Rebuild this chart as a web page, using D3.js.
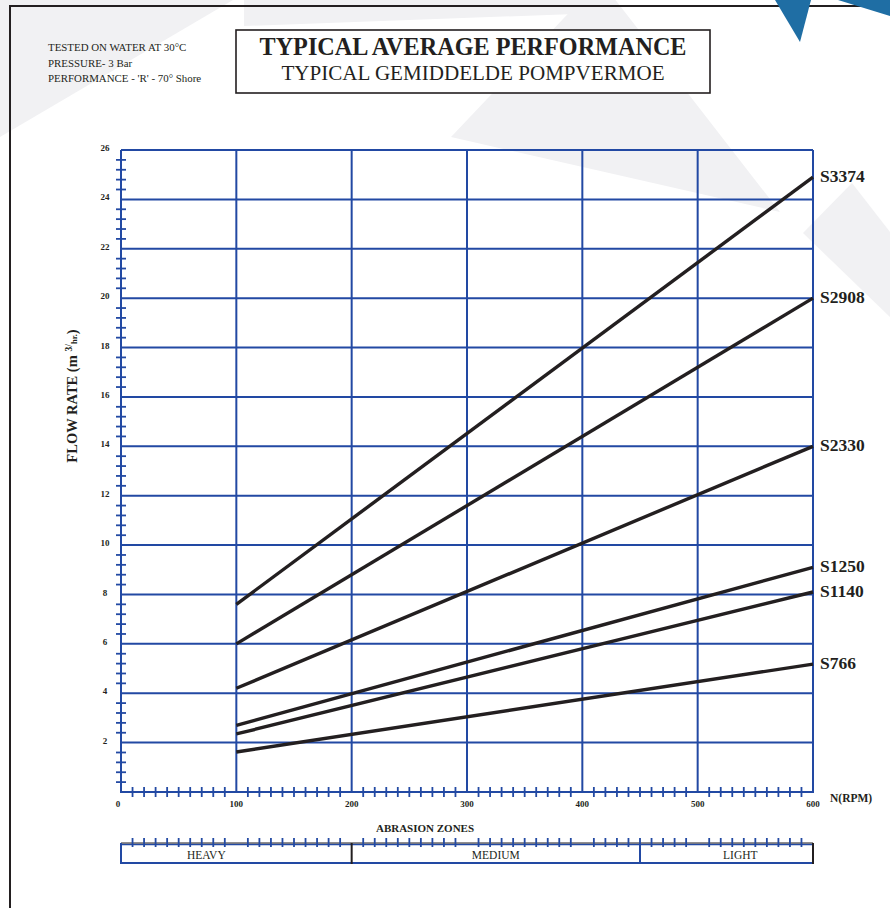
<!DOCTYPE html>
<html lang="en">
<head>
    <meta charset="UTF-8">
    <title>Typical Average Performance</title>
    <script src="https://d3js.org/d3.v7.min.js"></script>
    <style>
        body { margin: 0; background: #fff; }
        svg { display: block; font-family: "Liberation Serif", "Times New Roman", serif; }
    </style>
</head>
<body>
<div id="chart"></div>
<script>
    // chart data
    const rpmPoints = [100, 600];
    const seriesNames = ["S3374", "S2908", "S2330", "S1250", "S1140", "S766"];
    const flowS3374 = [7.6, 24.9];
    const flowS2908 = [6.0, 20.0];
    const flowS2330 = [4.2, 14.0];
    const flowS1250 = [2.7, 9.1];
    const flowS1140 = [2.35, 8.1];
    const flowS766 = [1.62, 5.18];
    const xTickLabels = [0, 100, 200, 300, 400, 500, 600];
    const yTickLabels = [2, 4, 6, 8, 10, 12, 14, 16, 18, 20, 22, 24, 26];
    const zoneNames = ["HEAVY", "MEDIUM", "LIGHT"];
    const zoneBounds = [0, 200, 450, 600];
    const zoneLabelAt = [74, 325, 537];
    const notes = ["TESTED ON WATER AT 30°C", "PRESSURE- 3 Bar", "PERFORMANCE - 'R' - 70° Shore"];

    const seriesValues = [flowS3374, flowS2908, flowS2330, flowS1250, flowS1140, flowS766];

    const blue = "#2249a3";
    const ink = "#231f20";
    const bg = "#f1f1f3";

    const svg = d3.select("#chart").append("svg")
        .attr("width", 890)
        .attr("height", 908);

    // background decoration
    const shapes = [
        [[0, 0], [233, 0], [0, 137]],
        [[244, 0], [244, 26], [575, 14], [590, 0]],
        [[451, 137], [600, -20], [780, 212]],
        [[803, 233], [852, 183], [890, 232], [890, 317]]
    ];
    svg.selectAll(".bgshape").data(shapes).enter().append("polygon")
        .attr("points", d => d.map(p => p.join(",")).join(" "))
        .attr("fill", bg);

    // page frame
    svg.append("path").attr("d", "M10,908 V6 H890")
        .attr("fill", "none").attr("stroke", ink).attr("stroke-width", 2);

    const blueShapes = [
        [[775, 0], [811, 0], [800, 42]],
        [[838, 0], [890, 0], [890, 16]]
    ];
    svg.selectAll(".blueshape").data(blueShapes).enter().append("polygon")
        .attr("points", d => d.map(p => p.join(",")).join(" "))
        .attr("fill", "#1f6ea4");

    // notes top-left
    svg.selectAll(".note").data(notes).enter().append("text")
        .attr("x", 48)
        .attr("y", (d, i) => 51 + i * 15.5)
        .attr("font-size", 10.9)
        .attr("fill", ink)
        .text(d => d);

    // title box
    svg.append("rect").attr("x", 236).attr("y", 30).attr("width", 474).attr("height", 63)
        .attr("fill", "#fff").attr("stroke", ink).attr("stroke-width", 1.6);
    svg.append("text").attr("x", 473).attr("y", 55)
        .attr("text-anchor", "middle").attr("font-size", 25).attr("font-weight", "bold")
        .attr("textLength", 427).attr("lengthAdjust", "spacingAndGlyphs")
        .attr("fill", ink).text("TYPICAL AVERAGE PERFORMANCE");
    svg.append("text").attr("x", 473).attr("y", 80)
        .attr("text-anchor", "middle").attr("font-size", 21.5)
        .attr("textLength", 383).attr("lengthAdjust", "spacingAndGlyphs")
        .attr("fill", ink).text("TYPICAL GEMIDDELDE POMPVERMOE");

    // scales
    const x = d3.scaleLinear().domain([0, 600]).range([121, 813]);
    const y = d3.scaleLinear().domain([0, 26]).range([792, 150]);

    const g = svg.append("g");

    // grid
    g.selectAll(".hgrid").data(yTickLabels).enter().append("line")
        .attr("x1", x(0)).attr("x2", x(600))
        .attr("y1", d => y(d)).attr("y2", d => y(d))
        .attr("stroke", blue).attr("stroke-width", 2);
    g.selectAll(".vgrid").data(xTickLabels.slice(1)).enter().append("line")
        .attr("y1", y(0)).attr("y2", y(26))
        .attr("x1", d => x(d)).attr("x2", d => x(d))
        .attr("stroke", blue).attr("stroke-width", 2);
    // axes lines
    g.append("line").attr("x1", x(0)).attr("x2", x(0)).attr("y1", y(0)).attr("y2", y(26))
        .attr("stroke", blue).attr("stroke-width", 2);
    g.append("line").attr("x1", x(0) - 1).attr("x2", x(600) + 1).attr("y1", y(0)).attr("y2", y(0))
        .attr("stroke", blue).attr("stroke-width", 2);

    // minor ticks
    const yMinor = d3.range(0, 26.001, 0.4).filter(v => Math.abs(v / 2 - Math.round(v / 2)) > 0.01);
    g.selectAll(".ymin").data(yMinor).enter().append("line")
        .attr("x1", x(0) - 5).attr("x2", x(0) + 5)
        .attr("y1", d => y(d)).attr("y2", d => y(d))
        .attr("stroke", blue).attr("stroke-width", 1.8);
    const xMinor = d3.range(10, 600, 10).filter(v => v % 100 !== 0);
    g.selectAll(".xmin").data(xMinor).enter().append("line")
        .attr("x1", d => x(d)).attr("x2", d => x(d))
        .attr("y1", y(0) - 5).attr("y2", y(0) + 5)
        .attr("stroke", blue).attr("stroke-width", 1.8);

    // tick labels
    g.selectAll(".ylab").data(yTickLabels).enter().append("text")
        .attr("x", 105).attr("y", d => y(d) - 1)
        .attr("text-anchor", "middle").attr("dominant-baseline", "middle")
        .attr("font-size", 9).attr("font-weight", "bold").attr("fill", ink)
        .text(d => d);
    g.selectAll(".xlab").data(xTickLabels).enter().append("text")
        .attr("x", d => d === 0 ? x(d) - 3 : x(d)).attr("y", y(0) + 15)
        .attr("text-anchor", "middle")
        .attr("font-size", 9).attr("font-weight", "bold").attr("fill", ink)
        .text(d => d);

    svg.append("text").attr("x", 830).attr("y", 802)
        .attr("font-size", 11.5).attr("font-weight", "bold").attr("fill", ink)
        .text("N(RPM)");

    const yl = svg.append("text")
        .attr("transform", "translate(77,396) rotate(-90)")
        .attr("text-anchor", "middle")
        .attr("font-size", 14.5).attr("font-weight", "bold").attr("fill", ink);
    yl.append("tspan").text("FLOW RATE (m ");
    yl.append("tspan").attr("font-size", 9.5).attr("dy", -5).text("3");
    yl.append("tspan").attr("font-size", 10).text("/");
    yl.append("tspan").attr("font-size", 8.5).attr("dy", 5).text("hr.");
    yl.append("tspan").text(")");

    // performance lines
    const line = d3.line().x((d, i) => x(rpmPoints[i])).y(d => y(d));
    g.selectAll(".perf").data(seriesValues).enter().append("path")
        .attr("d", d => line(d))
        .attr("fill", "none").attr("stroke", ink).attr("stroke-width", 3.4);

    g.selectAll(".slab").data(seriesNames).enter().append("text")
        .attr("x", x(600) + 7)
        .attr("y", (d, i) => y(seriesValues[i][1]) + 1)
        .attr("dominant-baseline", "middle")
        .attr("font-size", 17.5).attr("font-weight", "bold").attr("fill", ink)
        .text(d => d);

    // abrasion zones
    svg.append("text").attr("x", 425).attr("y", 832)
        .attr("text-anchor", "middle")
        .attr("font-size", 11).attr("font-weight", "bold").attr("fill", ink)
        .text("ABRASION ZONES");

    const zTop = 843, zBot = 863;
    const zg = svg.append("g");
    zg.append("line").attr("x1", x(0)).attr("x2", x(600)).attr("y1", zBot).attr("y2", zBot)
        .attr("stroke", blue).attr("stroke-width", 2);
    zg.append("line").attr("x1", x(0)).attr("x2", x(600)).attr("y1", zTop + 1.5).attr("y2", zTop + 1.5)
        .attr("stroke", blue).attr("stroke-width", 1.5);
    zg.append("line").attr("x1", x(0)).attr("x2", x(600)).attr("y1", zTop).attr("y2", zTop)
        .attr("stroke", ink).attr("stroke-width", 1.2);
    zg.selectAll(".zdiv").data(zoneBounds).enter().append("line")
        .attr("x1", d => x(d)).attr("x2", d => x(d))
        .attr("y1", zTop).attr("y2", zBot + 1)
        .attr("stroke", (d, i) => (i === 1 || i === 3) ? ink : blue)
        .attr("stroke-width", 2);
    zg.selectAll(".ztick").data(xMinor).enter().append("line")
        .attr("x1", d => x(d)).attr("x2", d => x(d))
        .attr("y1", zTop - 5).attr("y2", zTop + 4)
        .attr("stroke", blue).attr("stroke-width", 1.8);
    zg.selectAll(".zlab").data(zoneNames).enter().append("text")
        .attr("x", (d, i) => x(zoneLabelAt[i]))
        .attr("y", zBot - 4)
        .attr("text-anchor", "middle")
        .attr("font-size", 11.5).attr("fill", ink)
        .text(d => d);
</script>
</body>
</html>
